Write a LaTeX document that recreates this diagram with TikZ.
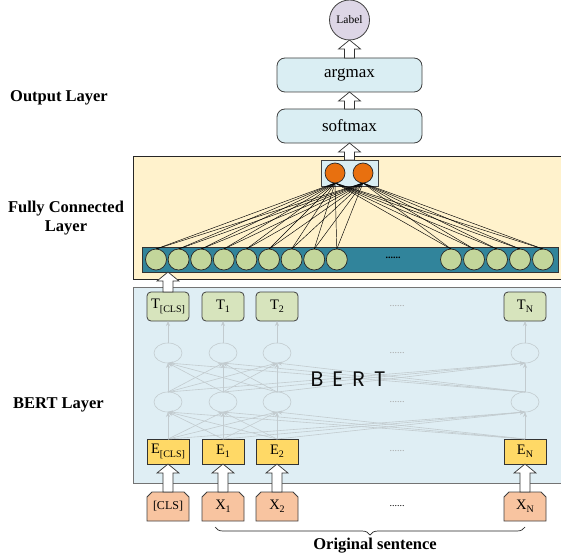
\documentclass[tikz,border=0pt]{standalone}
\usepackage{fontspec}
\setmainfont{Liberation Serif}
\newfontfamily\bertfont{Poppins}
\usetikzlibrary{positioning,calc,shapes.misc,shapes.geometric,arrows.meta,decorations.pathreplacing}

\definecolor{headblue}{HTML}{DAEEF3}
\definecolor{labelpurple}{HTML}{DDD6E6}
\definecolor{fcyellow}{HTML}{FFF2CC}
\definecolor{bertblue}{HTML}{DFEEF4}
\definecolor{barteal}{HTML}{31849B}
\definecolor{unitgreen}{HTML}{C3D69B}
\definecolor{outorange}{HTML}{E8700F}
\definecolor{tgreen}{HTML}{D7E4BD}
\definecolor{eyellow}{HTML}{FFD966}
\definecolor{xpeach}{HTML}{F8C4A0}
\definecolor{lightwire}{HTML}{C2CBCF}

\newcommand{\lowsub}[1]{\raisebox{-0.5ex}{\fontsize{10}{10}\selectfont #1}}
% hollow block arrow pointing up, from #1 to #2
\newcommand{\fatarrow}[2]{%
  \draw[bigarrow] let \p1=(#1), \p2=(#2) in
    (\x1-5pt,\y1) -- (\x1-5pt,\y2-9pt) -- (\x1-11pt,\y2-9pt) -- (\x1,\y2)
    -- (\x1+11pt,\y2-9pt) -- (\x1+5pt,\y2-9pt) -- (\x1+5pt,\y1) -- cycle;}

\tikzset{
  every node/.style={outer sep=0pt},
  layer/.style={font=\fontsize{16.5}{19}\selectfont\bfseries, align=center},
  headbox/.style={draw=black!75, line width=0.8pt, fill=headblue, rounded corners=8pt,
    minimum width=145pt, minimum height=34pt, font=\fontsize{17}{18}\selectfont},
  unit/.style={circle, draw=black!85, line width=0.7pt, fill=unitgreen, minimum size=21pt},
  outunit/.style={circle, draw=black!85, line width=0.7pt, fill=outorange, minimum size=20pt},
  tbox/.style={draw=black!75, line width=0.8pt, fill=tgreen, rounded corners=4pt,
    minimum width=42pt, minimum height=29pt, font=\fontsize{14.5}{16}\selectfont},
  ebox/.style={draw=black!80, line width=0.8pt, fill=eyellow,
    minimum width=42pt, minimum height=25pt, font=\fontsize{14.5}{16}\selectfont},
  xbox/.style={chamfered rectangle, chamfered rectangle corners={north west,north east},
    chamfered rectangle xsep=2.5pt, chamfered rectangle ysep=2.5pt, draw=black!75,
    line width=0.8pt, fill=xpeach, minimum width=42pt, minimum height=29pt,
    font=\fontsize{14.5}{16}\selectfont},
  hidden/.style={ellipse, draw=lightwire, line width=0.6pt, minimum width=28pt, minimum height=20pt},
  wire/.style={black, line width=0.45pt},
  bertwire/.style={lightwire, line width=0.6pt, -{Stealth[length=5pt,width=4pt]}},
  bigarrow/.style={draw=black!80, line width=0.7pt, fill=white},
  gaps/.style={text=black!35, font=\fontsize{10}{10}\selectfont},
}

\begin{document}
\begin{tikzpicture}[x=1pt,y=1pt]
\useasboundingbox (0,0) rectangle (561,558);

% layer names
\node[layer] at (59,460) {Output Layer};
\node[layer] at (66,340) {Fully Connected\\Layer};
\node[layer] at (58.5,153) {BERT Layer};

% backgrounds
\draw[black!85, line width=0.7pt, fill=fcyellow] (133,279) rectangle (563,402);
\draw[black!55, line width=0.7pt, fill=bertblue] (133,75) rectangle (563,271);

% output head
\node[headbox] (softmax) at (349.5,432) {softmax};
\node[headbox, above=17pt of softmax] (argmax) {argmax};
\node[circle, draw=black!75, line width=0.8pt, fill=labelpurple, minimum size=40pt,
  font=\fontsize{11.5}{12}\selectfont, above=18pt of argmax] (label) {Label};

% fully connected layer
\node[draw=black!75, line width=0.7pt, fill=headblue, minimum width=57pt, minimum height=26pt] (obox) at (349.5,385) {};
\node[draw=black!80, line width=0.7pt, fill=barteal, minimum width=416pt, minimum height=25pt] (bar) at (350,298.5) {};
\foreach \i in {0,...,8}
  \node[unit] (g\i) at ({156+22.6*\i},298.5) {};
\foreach \i/\x in {9/451,10/474,11/497,12/520,13/543}
  \node[unit] (g\i) at (\x,298.5) {};
\node[font=\fontsize{10}{10}\selectfont\bfseries] at (393,300) {......};
\coordinate (o1pos) at (335,385);
\coordinate (o2pos) at (363,385);
\foreach \i in {0,...,13} {
  \draw[wire] (g\i.north) -- ($(o1pos)+(0,-10)$);
  \draw[wire] (g\i.north) -- ($(o2pos)+(0,-10)$);
}
\node[outunit] (o1) at (o1pos) {};
\node[outunit] (o2) at (o2pos) {};

% BERT encoder
\foreach \i/\x/\s in {0/168/{[CLS]},1/223/1,2/277/2,3/525/N} {
  \node[tbox] (t\i) at (\x,251.5) {T\lowsub{\s}};
  \node[hidden] (a\i) at (\x,205) {};
  \node[hidden] (b\i) at (\x,156) {};
  \node[ebox] (e\i) at (\x,106.5) {E\lowsub{\s}};
}
\foreach \i in {0,...,3} {
  \draw[bertwire] (a\i.north) -- (t\i.south);
  \foreach \j in {0,...,3} {
    \draw[bertwire] (e\i.north) -- (b\j.south);
    \draw[bertwire] (b\i.north) -- (a\j.south);
  }
}
\foreach \y in {251.5,205,156,106.5}
  \node[gaps] at (397,\y) {......};
\node[text=black!95, font=\bertfont\fontsize{21}{21}\selectfont] at (348,179)
  {B\hspace{9pt}E\hspace{9pt}R\hspace{9pt}T};

% input tokens
\node[xbox, below=28pt of e0, font=\fontsize{12}{14}\selectfont] (x0) {[CLS]};
\node[xbox, below=28pt of e1] (x1) {X\lowsub{1}};
\node[xbox, below=28pt of e2] (x2) {X\lowsub{2}};
\node[xbox, below=28pt of e3] (x3) {X\lowsub{N}};
\node[font=\fontsize{10}{10}\selectfont] at (397,51.5) {......};

% block arrows
\foreach \i in {0,...,3}
  \fatarrow{x\i.north}{e\i.south};
\fatarrow{t0.north}{bar.south}
\fatarrow{obox.north}{softmax.south}
\fatarrow{softmax.north}{argmax.south}
\fatarrow{argmax.north}{label.south}

% sentence brace
\coordinate (bl) at ($(x1.south)+(-8,-6)$);
\coordinate (br) at ($(x3.south)+(0,-6)$);
\draw[black!85, line width=0.7pt, decorate, decoration={brace, mirror, amplitude=8pt}] (bl) -- (br);
\node[layer] at (375,12) {Original sentence};
\end{tikzpicture}
\end{document}
